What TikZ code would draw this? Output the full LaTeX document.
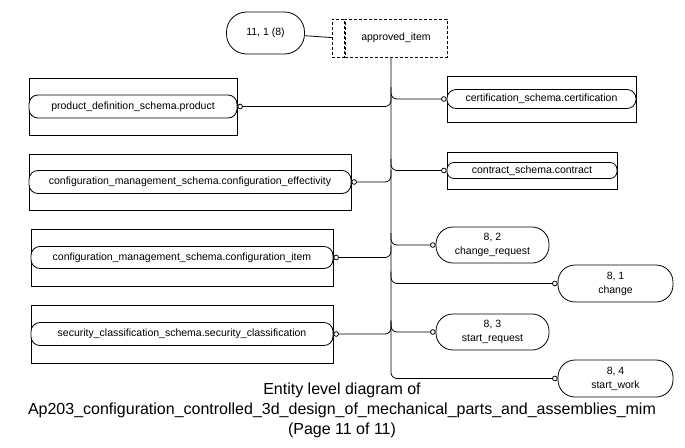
\documentclass[tikz,border=0pt]{standalone}
\usepackage{fontspec}
\setmainfont{Liberation Sans}
\usetikzlibrary{arrows.meta}
\tikzset{oc/.tip={Circle[open,length=5.5pt,fill=white]}}

\begin{document}
\begin{tikzpicture}[x=1pt,y=-1pt,line width=0.8pt]
\tikzstyle{box}=[draw,inner sep=0pt]
\tikzstyle{ent}=[draw,fill=white,rounded corners=9pt,inner sep=0pt,minimum height=23pt,font=\fontsize{10.5}{12}\selectfont]
\tikzstyle{ov}=[draw,rounded corners=17pt,align=center,inner sep=0pt,font=\fontsize{10.5}{14}\selectfont]
\tikzstyle{dbox}=[draw,dash pattern=on 3pt off 2pt,inner sep=0pt,font=\fontsize{10.5}{12}\selectfont]
\tikzstyle{link}=[rounded corners=6pt]
\useasboundingbox (0,0) rectangle (685,447);
% top of the page
\path (396,38) node[dbox,minimum width=102pt,minimum height=38pt](appr){approved\_item};
\node[dbox,minimum width=12pt,minimum height=38pt,anchor=east](tab) at (appr.west){};
\path (265.5,33) node[ov,minimum width=78pt,minimum height=42pt,rounded corners=20pt](top){11, 1 (8)};
\draw[] (top) -- (tab);
\coordinate (trunk) at (391,57);
% left side
\path (133,106.5) node[box,minimum width=208pt,minimum height=57pt]{} node[ent,minimum width=208pt](prod){product\_definition\_schema.product};
\path (190,182) node[box,minimum width=322pt,minimum height=56pt]{} node[ent,minimum width=322pt](effect){configuration\_management\_schema.configuration\_effectivity};
\path (182,257.5) node[box,minimum width=302pt,minimum height=57pt]{} node[ent,minimum width=302pt,minimum height=22pt](citem){configuration\_management\_schema.configuration\_item};
\path (182,334) node[box,minimum width=302pt,minimum height=58pt]{} node[ent,minimum width=302pt](secur){security\_classification\_schema.security\_classification};
% right side
\path (541.5,99) node[box,minimum width=189pt,minimum height=46pt]{} node[ent,minimum width=189pt,minimum height=19pt](cert){certification\_schema.certification};
\path (532,170.5) node[box,minimum width=170pt,minimum height=37pt]{} node[ent,minimum width=170pt,minimum height=16pt,rounded corners=7pt](contr){contract\_schema.contract};
\path (492.5,245) node[ov,minimum width=113pt,minimum height=36pt](chreq){8, 2\\change\_request};
\path (615.5,283.5) node[ov,minimum width=115pt,minimum height=37pt](chg){8, 1\\change};
\path (492.5,332) node[ov,minimum width=113pt,minimum height=36pt](streq){8, 3\\start\_request};
\path (615.5,378.5) node[ov,minimum width=115pt,minimum height=37pt](stwork){8, 4\\start\_work};
% links into the trunk
\draw[link,oc-] (prod.east) -- (prod.east -| trunk) -- ++(0,-12);
\draw[link,oc-] (effect.east) -- (effect.east -| trunk) -- ++(0,-12);
\draw[link,oc-] (citem.east) -- (citem.east -| trunk) -- ++(0,-12);
\draw[link,oc-] (secur.east) -- (secur.east -| trunk) -- ++(0,-12);
\draw[link,-oc] (cert.west -| trunk) ++(0,-12) |- (cert.west);
\draw[link,-oc] (contr.west -| trunk) ++(0,-12) |- (contr.west);
\draw[link,-oc] (chreq.west -| trunk) ++(0,-12) |- (chreq.west);
\draw[link,-oc] (chg.west -| trunk) ++(0,-12) |- (chg.west);
\draw[link,-oc] (streq.west -| trunk) ++(0,-12) |- (streq.west);
\draw[link,-oc] (trunk) |- (stwork.west);
% caption
\node[align=center,font=\fontsize{16}{20}\selectfont](cap) at (342,410){Entity level diagram of\\Ap203\_configuration\_controlled\_3d\_design\_of\_mechanical\_parts\_and\_assemblies\_mim\\(Page 11 of 11)};
\end{tikzpicture}
\end{document}
